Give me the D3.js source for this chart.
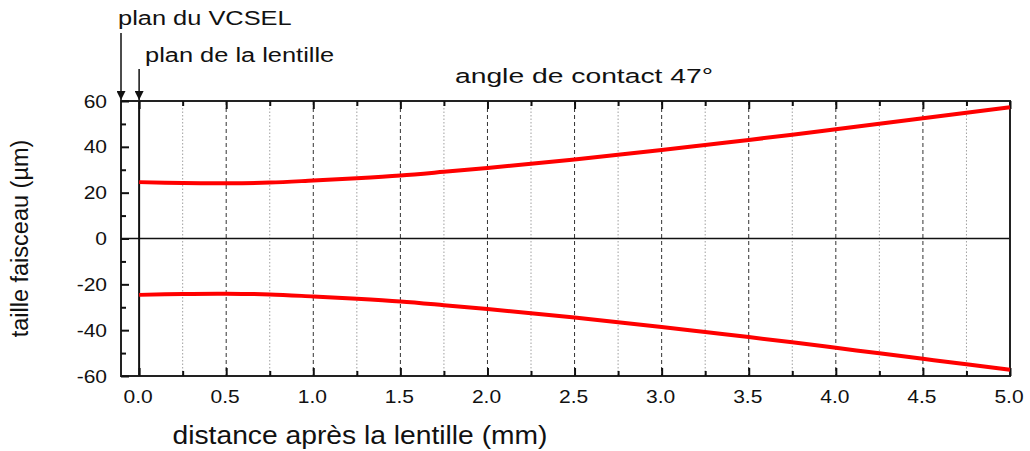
<!DOCTYPE html>
<html>
<head>
<meta charset="utf-8">
<script src="https://cdn.jsdelivr.net/npm/d3@7"></script>
<style>
  body { margin: 0; background: #fff; }
  text { font-family: "Liberation Sans", Arial, sans-serif; fill: #111; }
</style>
</head>
<body>
<div id="chart"></div>
<script>
// distance after lens (mm)
const distance = [0, 0.25, 0.5, 0.75, 1.0, 1.25, 1.5, 1.75, 2.0, 2.25, 2.5,
                  2.75, 3.0, 3.25, 3.5, 3.75, 4.0, 4.25, 4.5, 4.75, 5.0];
// beam half size, upper and lower edges (µm)
const upper = [24.6, 24.2, 24.1, 24.4, 25.3, 26.3, 27.5, 29.1, 30.8, 32.6, 34.5,
               36.5, 38.6, 40.8, 43.0, 45.3, 47.7, 50.1, 52.5, 54.9, 57.3];
const lower = [-24.6, -24.2, -24.1, -24.4, -25.3, -26.3, -27.5, -29.1, -30.8, -32.6, -34.5,
               -36.5, -38.6, -40.8, -43.0, -45.3, -47.7, -50.1, -52.5, -54.9, -57.3];
const xTicks = [0, 0.5, 1.0, 1.5, 2.0, 2.5, 3.0, 3.5, 4.0, 4.5, 5.0];
const xMinor = [0.25, 0.75, 1.25, 1.75, 2.25, 2.75, 3.25, 3.75, 4.25, 4.75];
const yTicks = [-60, -40, -20, 0, 20, 40, 60];
const yMinor = [-50, -30, -10, 10, 30, 50];

const W = 1030, H = 451;
const margin = { top: 101, right: 20, bottom: 75, left: 121 };
const xMin = -0.104;

const svg = d3.select("#chart").append("svg")
    .attr("width", W)
    .attr("height", H);

const x = d3.scaleLinear().domain([xMin, 5.0]).range([margin.left, W - margin.right]);
const y = d3.scaleLinear().domain([-60, 60]).range([H - margin.bottom, margin.top]);

// text helper: the original font is drawn wider than it is tall
function label(px, py, str, size, sx, anchor) {
    return svg.append("text")
        .attr("transform", `translate(${px},${py}) scale(${sx},1)`)
        .attr("text-anchor", anchor || "start")
        .attr("font-size", size)
        .text(str);
}

// grid: dashed at major ticks, dotted at minor
svg.append("g").selectAll("line")
    .data(xTicks.filter(d => d > 0 && d < 5))
    .enter().append("line")
    .attr("x1", d => x(d)).attr("x2", d => x(d))
    .attr("y1", y(60)).attr("y2", y(-60))
    .attr("stroke", "#333").attr("stroke-width", 1)
    .attr("stroke-dasharray", "4,3");

svg.append("g").selectAll("line")
    .data(xMinor)
    .enter().append("line")
    .attr("x1", d => x(d)).attr("x2", d => x(d))
    .attr("y1", y(60)).attr("y2", y(-60))
    .attr("stroke", "#888").attr("stroke-width", 0.8)
    .attr("stroke-dasharray", "1.5,2");

// zero line and lens plane
svg.append("line")
    .attr("x1", x(xMin)).attr("x2", x(5))
    .attr("y1", y(0)).attr("y2", y(0))
    .attr("stroke", "#111").attr("stroke-width", 1.5);
svg.append("line")
    .attr("x1", x(0)).attr("x2", x(0))
    .attr("y1", y(60)).attr("y2", y(-60))
    .attr("stroke", "#111").attr("stroke-width", 2);

// frame
svg.append("rect")
    .attr("x", x(xMin)).attr("y", y(60))
    .attr("width", x(5) - x(xMin)).attr("height", y(-60) - y(60))
    .attr("fill", "none").attr("stroke", "#222").attr("stroke-width", 2);

// inward ticks
function ticks(axis, pos, values, size) {
    svg.append("g")
        .attr("transform", pos)
        .call(axis.tickValues(values).tickFormat("").tickSizeInner(-size).tickSizeOuter(0))
        .call(g => g.select(".domain").remove())
        .call(g => g.selectAll("line").attr("stroke", "#111").attr("stroke-width", 2));
}
ticks(d3.axisBottom(x), `translate(0,${y(-60)})`, xTicks, 8);
ticks(d3.axisBottom(x), `translate(0,${y(-60)})`, xMinor, 5);
ticks(d3.axisTop(x), `translate(0,${y(60)})`, xTicks, 8);
ticks(d3.axisTop(x), `translate(0,${y(60)})`, xMinor, 5);
ticks(d3.axisLeft(y), `translate(${x(xMin)},0)`, yTicks, 8);
ticks(d3.axisLeft(y), `translate(${x(xMin)},0)`, yMinor, 5);

// tick labels
xTicks.forEach(d => label(x(d) - 1, y(-60) + 27, d.toFixed(1), 17.5, 1.2, "middle"));
yTicks.forEach(d => label(x(xMin) - 14, y(d) + 6.5, String(d), 17.5, 1.2, "end"));

// beam curves
const line = d3.line().curve(d3.curveCatmullRom);
[upper, lower].forEach(s => {
    svg.append("path")
        .attr("d", line(distance.map((d, i) => [x(d), y(s[i])])))
        .attr("fill", "none")
        .attr("stroke", "#ff0000")
        .attr("stroke-width", 4);
});

// titles
label(584, 83, "angle de contact 47°", 20.5, 1.38, "middle");
label(360, 444, "distance après la lentille (mm)", 25, 1.13, "middle");
svg.append("text")
    .attr("transform", `translate(28,${y(0)}) rotate(-90)`)
    .attr("text-anchor", "middle")
    .attr("font-size", 23.5)
    .text("taille faisceau (µm)");

// arrow annotations
svg.append("defs").append("marker")
    .attr("id", "arr").attr("viewBox", "0 0 10 10")
    .attr("refX", 10).attr("refY", 5)
    .attr("markerWidth", 14).attr("markerHeight", 9)
    .attr("markerUnits", "userSpaceOnUse")
    .attr("orient", "auto")
    .append("path").attr("d", "M0,0 L10,5 L0,10 Z").attr("fill", "#111");

const annotations = [
    { label: "plan du VCSEL", pos: xMin, top: 33, tx: 118, ty: 25 },
    { label: "plan de la lentille", pos: 0, top: 69, tx: 145, ty: 62 }
];
annotations.forEach(a => {
    svg.append("line")
        .attr("x1", x(a.pos)).attr("x2", x(a.pos))
        .attr("y1", a.top).attr("y2", y(60) - 1)
        .attr("stroke", "#111").attr("stroke-width", 1.5)
        .attr("marker-end", "url(#arr)");
    label(a.tx, a.ty, a.label, 20, 1.27, "start");
});
</script>
</body>
</html>
